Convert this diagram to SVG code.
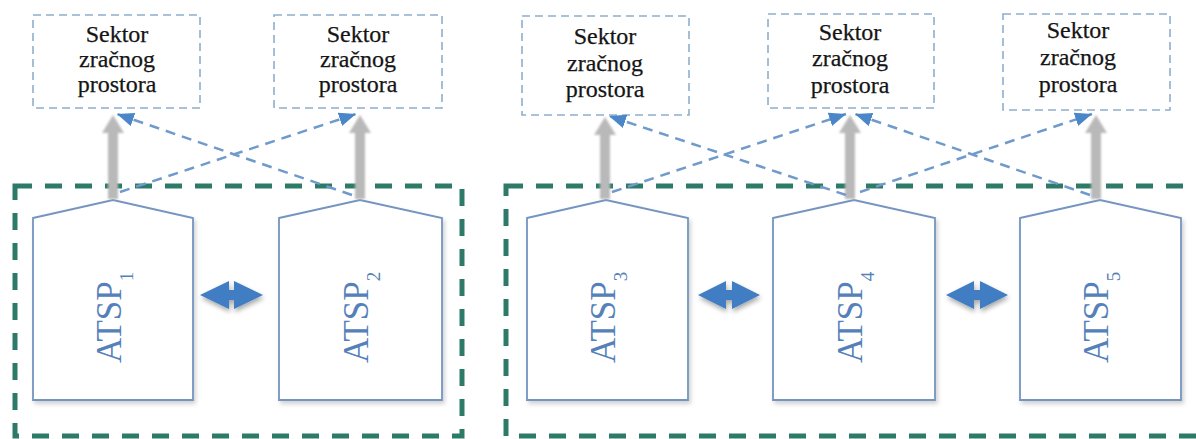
<svg xmlns="http://www.w3.org/2000/svg" width="1196" height="439" viewBox="0 0 1196 439">
<style>
.group{fill:none;stroke:#2e7a69;stroke-width:5;stroke-dasharray:17 13}
.sektor{fill:#fff;stroke:#8eaecd;stroke-width:1.6;stroke-dasharray:8 5}
.stxt{font-family:"Liberation Serif","Times New Roman",serif;font-size:24px;fill:#151515;stroke:#151515;stroke-width:0.25;text-anchor:middle}
.atsp{fill:#fff;stroke:#7494c0;stroke-width:1.8;filter:url(#shadow)}
.atxt{font-family:"Liberation Serif","Times New Roman",serif;font-size:35px;fill:#5581ba}
.sub{font-size:19px}
.gray{fill:#b9b9b9;filter:url(#soft)}
.dash{fill:none;stroke:#6f9acb;stroke-width:2.5;stroke-dasharray:10 7;marker-end:url(#ah)}
.dbl{fill:#3f7dc2;filter:url(#glow)}
</style>
<defs>
<marker id="ah" markerUnits="userSpaceOnUse" markerWidth="20" markerHeight="16" refX="17" refY="7" orient="auto">
<path d="M0,0 L17,7 L0,14 Z" fill="#4a86c8"/>
</marker>
<filter id="shadow" x="-10%" y="-10%" width="130%" height="130%">
<feDropShadow dx="2" dy="3" stdDeviation="2" flood-color="#000" flood-opacity="0.18"/>
</filter>
<filter id="soft" x="-50%" y="-20%" width="200%" height="140%">
<feGaussianBlur stdDeviation="0.8"/>
</filter>
<filter id="glow" x="-20%" y="-50%" width="140%" height="200%">
<feGaussianBlur in="SourceAlpha" stdDeviation="2.5" result="b"/>
<feOffset dx="1" dy="3" result="o"/>
<feComponentTransfer in="o" result="s"><feFuncA type="linear" slope="0.35"/></feComponentTransfer>
<feMerge><feMergeNode in="s"/><feMergeNode in="SourceGraphic"/></feMerge>
</filter>
</defs>
<rect width="1196" height="439" fill="#fff"/>

<g id="group-left"><rect class="group" x="15" y="186" width="447" height="250"/></g>
<g id="group-right"><rect class="group" x="506" y="186" width="700" height="250"/></g>

<g id="sektor1"><rect class="sektor" x="33" y="15" width="167" height="93"/>
<text class="stxt" x="117" y="42">Sektor</text><text class="stxt" x="117" y="67">zračnog</text><text class="stxt" x="117" y="92">prostora</text></g>
<g id="sektor2"><rect class="sektor" x="274" y="15" width="168" height="93"/>
<text class="stxt" x="358" y="42">Sektor</text><text class="stxt" x="358" y="67">zračnog</text><text class="stxt" x="358" y="92">prostora</text></g>
<g id="sektor3"><rect class="sektor" x="522" y="16" width="167" height="99"/>
<text class="stxt" x="605" y="44">Sektor</text><text class="stxt" x="605" y="71">zračnog</text><text class="stxt" x="605" y="97">prostora</text></g>
<g id="sektor4"><rect class="sektor" x="768" y="14" width="166" height="94"/>
<text class="stxt" x="850" y="40">Sektor</text><text class="stxt" x="850" y="66">zračnog</text><text class="stxt" x="850" y="93">prostora</text></g>
<g id="sektor5"><rect class="sektor" x="1003" y="14" width="167" height="96"/>
<text class="stxt" x="1078" y="38">Sektor</text><text class="stxt" x="1078" y="65">zračnog</text><text class="stxt" x="1078" y="92">prostora</text></g>

<g id="atsp1"><path class="atsp" d="M33,218 L113,200 L193,218 L193,400 L33,400 Z"/>
<text class="atxt" transform="translate(121,363) rotate(-90)">ATSP<tspan class="sub" dy="12">1</tspan></text></g>
<g id="atsp2"><path class="atsp" d="M279,218 L360,200 L442,218 L442,400 L279,400 Z"/>
<text class="atxt" transform="translate(368,363) rotate(-90)">ATSP<tspan class="sub" dy="12">2</tspan></text></g>
<g id="atsp3"><path class="atsp" d="M527,218 L606,200 L688,218 L688,400 L527,400 Z"/>
<text class="atxt" transform="translate(615,363) rotate(-90)">ATSP<tspan class="sub" dy="12">3</tspan></text></g>
<g id="atsp4"><path class="atsp" d="M773,218 L854,200 L935,218 L935,400 L773,400 Z"/>
<text class="atxt" transform="translate(862,363) rotate(-90)">ATSP<tspan class="sub" dy="12">4</tspan></text></g>
<g id="atsp5"><path class="atsp" d="M1020,218 L1100,200 L1181,218 L1181,400 L1020,400 Z"/>
<text class="atxt" transform="translate(1108,363) rotate(-90)">ATSP<tspan class="sub" dy="12">5</tspan></text></g>

<g id="connectors">
<path class="gray" d="M108,199 L108,133 L102,133 L113,115 L124,133 L118,133 L118,199 Z"/>
<path class="gray" d="M355,199 L355,133 L349,133 L360,115 L371,133 L365,133 L365,199 Z"/>
<path class="gray" d="M600,199 L600,135 L594,135 L605,117 L616,135 L610,135 L610,199 Z"/>
<path class="gray" d="M845,199 L845,133 L839,133 L850,115 L861,133 L855,133 L855,199 Z"/>
<path class="gray" d="M1091,199 L1091,133 L1085,133 L1096,115 L1107,133 L1101,133 L1101,199 Z"/>

<path class="dash" d="M120,192 L356,114"/>
<path class="dash" d="M352,195 L117,114"/>
<path class="dash" d="M612,192 L846,114"/>
<path class="dash" d="M846,195 L609,116"/>
<path class="dash" d="M860,192 L1092,114"/>
<path class="dash" d="M1090,195 L855,114"/>

<path class="dbl" d="M200,295 L229,281 L229,290 L234,290 L234,281 L263,295 L234,309 L234,300 L229,300 L229,309 Z"/>
<path class="dbl" d="M698,295 L726,281 L726,290 L732,290 L732,281 L760,295 L732,309 L732,300 L726,300 L726,309 Z"/>
<path class="dbl" d="M946,295 L974,281 L974,290 L980,290 L980,281 L1008,295 L980,309 L980,300 L974,300 L974,309 Z"/>
</g>
</svg>
